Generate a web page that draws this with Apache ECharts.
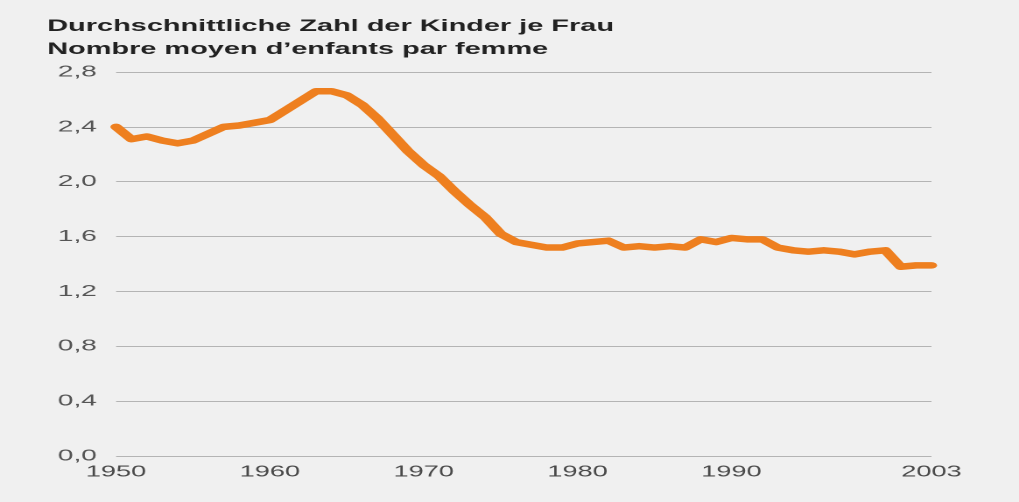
<!DOCTYPE html>
<html>
<head>
<meta charset="utf-8">
<script src="https://cdn.jsdelivr.net/npm/echarts@6/dist/echarts.min.js"></script>
<style>
  html, body { margin: 0; padding: 0; background: #f0f0f0; }
  #wrap { width: 1019px; height: 502px; overflow: hidden; background: #f0f0f0; }
  #chart { width: 582px; height: 502px; transform: scaleX(1.75086); transform-origin: 0 0; }
</style>
</head>
<body>
<div id="wrap"><div id="chart"></div></div>
<script>
const titleLines = ['Durchschnittliche Zahl der Kinder je Frau', 'Nombre moyen d\u2019enfants par femme'];
const years = [];
for (let y = 1950; y <= 2003; y++) years.push(String(y));
const fertility = [
  2.40, 2.31, 2.33, 2.30, 2.28, 2.30, 2.35, 2.40, 2.41, 2.43,
  2.45, 2.52, 2.59, 2.66, 2.66, 2.63, 2.56, 2.46, 2.34, 2.22,
  2.12, 2.04, 1.93, 1.83, 1.74, 1.62, 1.56, 1.54, 1.52, 1.52,
  1.55, 1.56, 1.57, 1.52, 1.53, 1.52, 1.53, 1.52, 1.58, 1.56,
  1.59, 1.58, 1.58, 1.52, 1.50, 1.49, 1.50, 1.49, 1.47, 1.49,
  1.50, 1.38, 1.39, 1.39
];
const xTickLabels = ['1950', '1960', '1970', '1980', '1990', '2003'];
const yMin = 0, yMax = 2.8, yStep = 0.4;

const chart = echarts.init(document.getElementById('chart'), null, { renderer: 'canvas', devicePixelRatio: 2 });
chart.setOption({
  animation: false,
  backgroundColor: '#f0f0f0',
  title: {
    text: titleLines.join('\n'),
    left: 22,
    top: 10,
    textStyle: {
      fontFamily: 'Liberation Sans, Arial, sans-serif',
      fontWeight: 'bold',
      fontSize: 16.5,
      lineHeight: 23,
      color: '#222'
    }
  },
  grid: { left: 66.3, right: 50, top: 72, bottom: 46 },
  xAxis: {
    type: 'category',
    data: years,
    boundaryGap: false,
    axisLine: { show: false },
    axisTick: { show: false },
    splitLine: { show: false },
    axisLabel: {
      interval: (idx, val) => xTickLabels.includes(val),
      margin: 8,
      fontFamily: 'Liberation Sans, Arial, sans-serif',
      fontSize: 15.5,
      color: '#4a4a4a'
    }
  },
  yAxis: {
    type: 'value',
    min: yMin,
    max: yMax,
    interval: yStep,
    axisLine: { show: false },
    axisTick: { show: false },
    splitLine: { show: true, lineStyle: { color: '#b4b4b4', width: 1 } },
    axisLabel: {
      margin: 11,
      formatter: v => v.toFixed(1).replace('.', ','),
      fontFamily: 'Liberation Sans, Arial, sans-serif',
      fontSize: 16,
      color: '#555'
    }
  },
  series: [{
    type: 'line',
    data: fertility,
    showSymbol: false,
    smooth: false,
    lineStyle: { color: '#ee7f1f', width: 6.5, cap: 'round', join: 'round' }
  }]
});
</script>
</body>
</html>
